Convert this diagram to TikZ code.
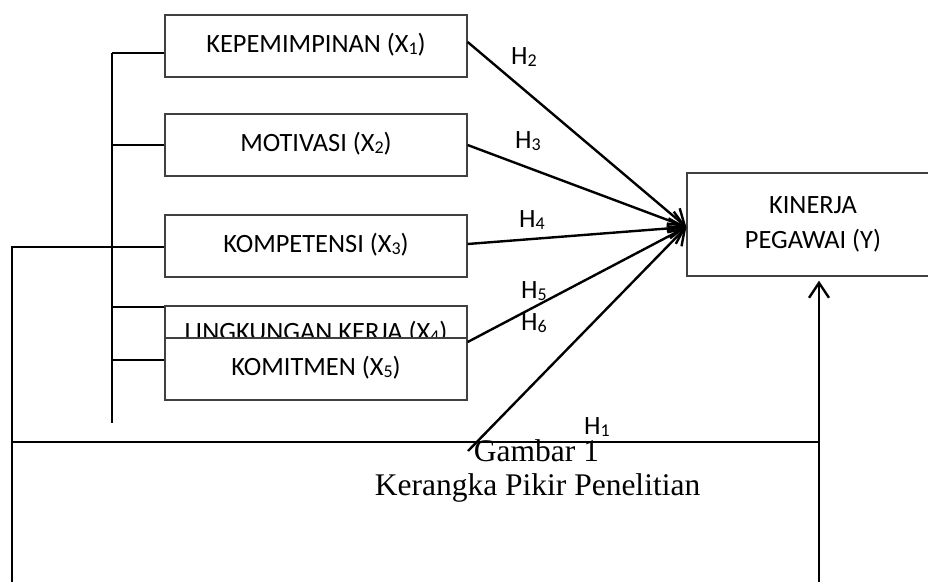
\documentclass[tikz,border=0pt]{standalone}
\usepackage{fontspec}
\setmainfont{Carlito}
\newfontfamily\capfont{Liberation Serif}
\usetikzlibrary{arrows.meta,calc}
\definecolor{boxgray}{gray}{0.25}
\newcommand{\sbx}[1]{\raisebox{-2.6pt}{\fontsize{18}{18}\selectfont #1}}
\begin{document}
\begin{tikzpicture}[x=1pt,y=-1pt,
  box/.style={draw=boxgray, line width=1.3pt, fill=white, minimum width=302pt,
    minimum height=62pt, inner sep=0pt, font=\fontsize{26.4}{32}\selectfont,
    text height=18pt, text depth=6pt},
  ybox/.style={draw=boxgray, line width=1.3pt, fill=white, minimum width=252pt,
    minimum height=103pt, inner sep=0pt, align=center,
    font=\fontsize{26.4}{35}\selectfont},
  link/.style={line width=2pt, black},
  arr/.style={line width=2.4pt, black, -{Straight Barb[length=15pt,width=20pt]}},
  hlab/.style={anchor=base west, inner sep=0pt, font=\fontsize{26.4}{32}\selectfont},
  captext/.style={anchor=base, inner sep=0pt, font=\capfont\fontsize{31.5}{36}\selectfont}]

\useasboundingbox (0,0) rectangle (928,581);
\clip (0,0) rectangle (928,581);

% boxes
\node[box] (B1) at (316,46) {KEPEMIMPINAN (X\sbx{1})};
\node[box] (B2) at (316,145) {MOTIVASI (X\sbx{2})};
\node[box] (B3) at (316,246) {KOMPETENSI (X\sbx{3})};
\node[box, text height=12pt] (B4) at (316,337) {LINGKUNGAN KERJA (X\sbx{4})};
\node[box] (B5) at (316,369) {KOMITMEN (X\sbx{5})};
\node[ybox] (Y) at (813,224.5) {KINERJA\\PEGAWAI (Y)};

% bracket
\coordinate (vT) at (112,53);
\coordinate (vB) at (112,423);
\draw[link] (vT) -- (vB);
\draw[link] (vT) -- ($(B1.west)+(0,7)$);
\draw[link] (vT |- B2.west) -- (B2.west);
\coordinate (b4p) at ($(B4.north west)+(0,2)$);
\draw[link] (b4p -| vT) -- (b4p);
\coordinate (b5p) at ($(B5.west)+(0,-9)$);
\draw[link] (b5p -| vT) -- (b5p);

% outer frame and H1
\coordinate (oTL) at (12,247);
\coordinate (oML) at (12,442);
\coordinate (oBL) at (12,590);
\coordinate (oMR) at (819,442);
\coordinate (oBR) at (819,590);
\draw[link] (oTL -| B3.west) -- (oTL) -- (oBL);
\draw[link] (oML) -- (oMR);
\draw[arr, shorten >=4pt] (oBR) -- (oBR |- Y.south);

% arrows to Y
\coordinate (hub) at ($(Y.west)+(0,2.5)$);
\coordinate (h6s) at (468,451);
\draw[arr] ($(B1.east)+(0,-4)$) -- (hub);
\draw[arr] (B2.east) -- (hub);
\draw[arr] ($(B3.east)+(0,-2)$) -- (hub);
\draw[arr] ($(B4.east)+(0,5)$) -- (hub);
\draw[arr] (h6s) -- (hub);

% labels
\node[hlab] (L2) at (511,64) {H\sbx{2}};
\node[hlab] (L3) at (515,148) {H\sbx{3}};
\node[hlab] (L4) at (519,227) {H\sbx{4}};
\node[hlab] (L5) at (521,298) {H\sbx{5}};
\node[hlab] (L6) at (521,330) {H\sbx{6}};
\node[hlab] (L1) at (584,434) {H\sbx{1}};

% caption
\node[captext] (C1) at (536.5,461) {Gambar 1};
\node[captext] (C2) at (537.5,495) {Kerangka Pikir Penelitian};
\end{tikzpicture}
\end{document}
